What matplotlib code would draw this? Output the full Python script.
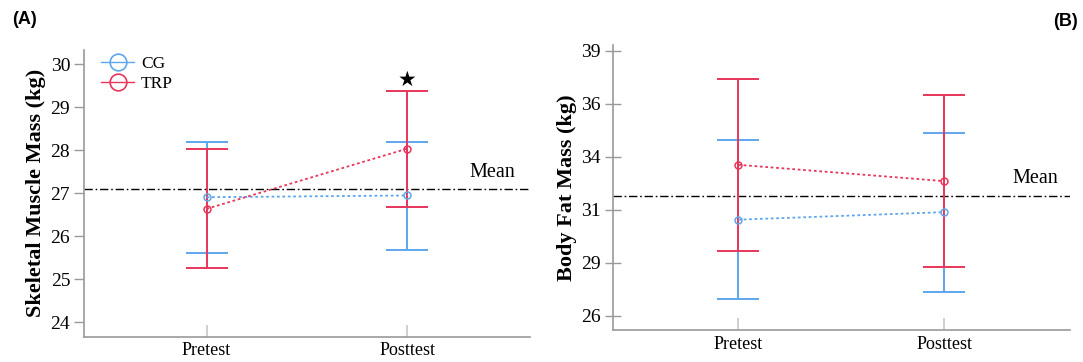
import matplotlib
matplotlib.use("Agg")
import matplotlib.pyplot as plt
from matplotlib.lines import Line2D

# ---------------- data ----------------
times = ["Pretest", "Posttest"]
groups = ["CG", "TRP"]

# Panel A: skeletal muscle mass (kg)
smm_cg_mean = [26.91, 26.95]
smm_cg_low = [25.61, 25.69]
smm_cg_high = [28.19, 28.19]
smm_trp_mean = [26.64, 28.04]
smm_trp_low = [25.26, 26.69]
smm_trp_high = [28.04, 29.38]
smm_grand_mean = 27.11
smm_ticks = [24, 25, 26, 27, 28, 29, 30]

# Panel B: body fat mass (kg)
bfm_cg_mean = [30.72, 31.09]
bfm_cg_low = [26.82, 27.16]
bfm_cg_high = [34.62, 34.98]
bfm_trp_mean = [33.41, 32.61]
bfm_trp_low = [29.18, 28.42]
bfm_trp_high = [37.61, 36.82]
bfm_grand_mean = 31.88
bfm_ticks = [26.0, 28.6, 31.2, 33.8, 36.4, 39.0]
bfm_tick_labels = ["26", "29", "31", "34", "36", "39"]

BLUE = "#5ea6ec"
RED = "#e8355a"
GRAY = "#9a9a9a"
SERIF = ["Liberation Serif", "DejaVu Serif"]

fig = plt.figure(figsize=(10.83, 3.62), dpi=100)
axA = fig.add_axes([0.0776, 0.0699, 0.4118, 0.792])
axB = fig.add_axes([0.5657, 0.0884, 0.4223, 0.787])

def draw(ax, cg, trp, gm, ylim, yticks, ylabels, ylabel, tickdir):
    x = list(range(len(times)))
    for (m, lo, hi), col in [(cg, BLUE), (trp, RED)]:
        yerr = [[mm - l for mm, l in zip(m, lo)], [h - mm for mm, h in zip(m, hi)]]
        ax.errorbar(x, m, yerr=yerr, fmt="none", ecolor=col, elinewidth=1.4,
                    capsize=15, capthick=1.4, zorder=3)
        ax.plot(x, m, linestyle=(0, (1.5, 1.5)), color=col, linewidth=1.3,
                marker="o", markersize=5, markerfacecolor="none",
                markeredgecolor=col, markeredgewidth=1.1, zorder=4)
    ax.axhline(gm, color="black", linewidth=1.0, linestyle=(0, (6, 2, 1.2, 2)), zorder=2)
    ax.set_xlim(-0.61, 1.61)
    ax.set_ylim(*ylim)
    ax.set_xticks(x)
    ax.set_xticklabels(times, fontsize=13, family=SERIF)
    ax.set_yticks(yticks)
    ax.set_yticklabels(ylabels, fontsize=14, family=SERIF)
    ax.set_ylabel(ylabel, fontsize=16, fontweight="bold", family=SERIF, labelpad=3)
    for s in ["top", "right"]:
        ax.spines[s].set_visible(False)
    for s in ["left", "bottom"]:
        ax.spines[s].set_color(GRAY)
        ax.spines[s].set_linewidth(1.2)
    ax.tick_params(axis="x", direction="in", length=9, color="#c8c8c8", width=1.2, pad=4)
    ax.tick_params(axis="y", direction=tickdir, length=7 if tickdir == "out" else 11,
                   color=GRAY, width=1.0, pad=3)

draw(axA, (smm_cg_mean, smm_cg_low, smm_cg_high),
     (smm_trp_mean, smm_trp_low, smm_trp_high), smm_grand_mean,
     (23.67, 30.33), smm_ticks, [str(t) for t in smm_ticks],
     "Skeletal Muscle Mass (kg)", "out")
draw(axB, (bfm_cg_mean, bfm_cg_low, bfm_cg_high),
     (bfm_trp_mean, bfm_trp_low, bfm_trp_high), bfm_grand_mean,
     (25.31, 39.28), bfm_ticks, bfm_tick_labels,
     "Body Fat Mass (kg)", "inout")

# "Mean" labels
axA.text(1.42, smm_grand_mean + 0.15, "Mean", fontsize=14.5, family=SERIF, ha="center", va="bottom")
axB.text(1.44, bfm_grand_mean + 0.4, "Mean", fontsize=14.5, family=SERIF, ha="center", va="bottom")

# significance star
axA.text(1, smm_trp_high[1] + 0.02, "\u2605", fontsize=15, ha="center", va="bottom",
         family=["DejaVu Sans"])

# legend
handles = [Line2D([0], [0], color=c, linewidth=1.0, marker="o", markersize=12,
                  markerfacecolor="none", markeredgecolor=c, markeredgewidth=1.2)
           for c in (BLUE, RED)]
axA.legend(handles, groups, loc="upper left", bbox_to_anchor=(0.015, 1.015), frameon=False,
           prop={"family": SERIF, "size": 12.5}, handlelength=1.9, handletextpad=0.4,
           labelspacing=0.2, borderaxespad=0.2)

# panel labels
fig.text(0.011, 0.945, "(A)", fontsize=13, fontweight="bold", family=["Liberation Sans", "DejaVu Sans"], va="center")
fig.text(0.972, 0.94, "(B)", fontsize=13, fontweight="bold", family=["Liberation Sans", "DejaVu Sans"], va="center")

fig.savefig("out.png", dpi=100)
